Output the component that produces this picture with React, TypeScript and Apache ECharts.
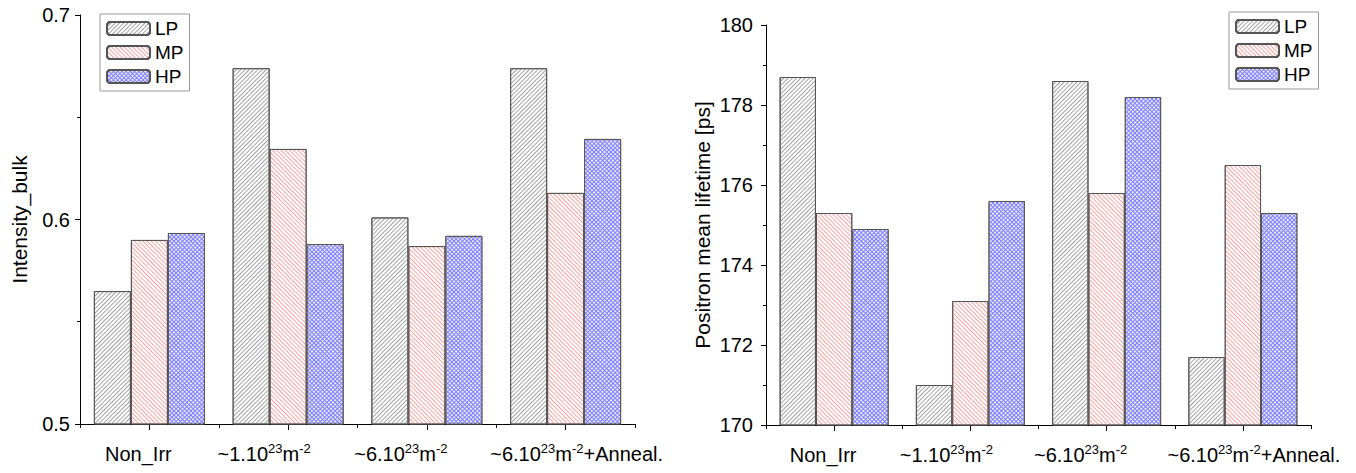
import React, { useEffect, useRef } from "react";
import * as echarts from "echarts";

const categories = ["Non_Irr", "~1.10^23m^-2", "~6.10^23m^-2", "~6.10^23m^-2+Anneal."];
const categoryLabels = [
  "{n|Non_Irr}{g22| }",
  "{n|~1.10}{s|23}{n|m}{s|-2}{g48| }",
  "{n|~6.10}{s|23}{n|m}{s|-2}{g52| }",
  "{g22| }{n|~6.10}{s|23}{n|m}{s|-2}{n|+Anneal.}",
];
const seriesNames = ["LP", "MP", "HP"];

// Left chart: Intensity_bulk
const intensityLP = [0.565, 0.674, 0.601, 0.674];
const intensityMP = [0.59, 0.6345, 0.587, 0.613];
const intensityHP = [0.5934, 0.588, 0.592, 0.6394];

// Right chart: Positron mean lifetime [ps]
const lifetimeLP = [178.7, 171.0, 178.6, 171.7];
const lifetimeMP = [175.3, 173.1, 175.8, 176.5];
const lifetimeHP = [174.9, 175.6, 178.2, 175.3];

const FONT = "'Liberation Sans', Arial, sans-serif";
const FS = 20;

const decals: any = {
  LP: {
    symbol: "rect",
    symbolSize: 1,
    dashArrayX: [1, 0],
    dashArrayY: [1, 2],
    rotation: -Math.PI / 4,
    color: "#a3a3a3",
  },
  MP: {
    symbol: "rect",
    symbolSize: 1,
    dashArrayX: [1, 0],
    dashArrayY: [1, 2],
    rotation: Math.PI / 4,
    color: "#f7a3a3",
  },
  HP: {
    symbol: "circle",
    symbolSize: 1,
    dashArrayX: [2, 1],
    dashArrayY: [2, 1],
    rotation: Math.PI / 4,
    color: "#ffffff",
  },
};
const baseColors: any = { LP: "#ffffff", MP: "#ffffff", HP: "#7a7aff" };

export default function App() {
  const ref = useRef<HTMLDivElement>(null);
  useEffect(() => {
    if (!ref.current) return;
    const chart = echarts.init(ref.current, null, { renderer: "svg" });

    const rich = {
      n: { fontSize: FS, fontFamily: FONT, color: "#000", lineHeight: 22, verticalAlign: "bottom" },
      s: { fontSize: 13, fontFamily: FONT, color: "#000", lineHeight: 13, verticalAlign: "top" },
      g22: { width: 22, fontSize: 10, lineHeight: 22 },
      g48: { width: 48, fontSize: 10, lineHeight: 22 },
      g52: { width: 52, fontSize: 10, lineHeight: 22 },
    };

    const mainX = (gridIndex: number) => ({
      type: "category",
      gridIndex,
      position: "bottom",
      data: categories,
      axisLine: { show: true, lineStyle: { color: "#000", width: 1 } },
      axisTick: { show: true, alignWithLabel: true, length: 6, lineStyle: { color: "#000" } },
      axisLabel: {
        interval: 0,
        margin: 18,
        formatter: (_v: string, i: number) => categoryLabels[i],
        rich,
      },
      splitLine: { show: false },
    });
    const boundX = (gridIndex: number) => ({
      type: "category",
      gridIndex,
      position: "bottom",
      data: categories,
      axisLine: { show: false },
      axisTick: { show: true, interval: 0, length: 4, lineStyle: { color: "#000" } },
      axisLabel: { show: false },
      splitLine: { show: false },
    });

    const yAxis = (
      gridIndex: number,
      min: number,
      max: number,
      interval: number,
      name: string,
      nameGap: number,
      labelMargin: number
    ) => ({
      type: "value",
      gridIndex,
      min,
      max,
      interval,
      name,
      nameLocation: "middle",
      nameGap,
      nameTextStyle: { fontSize: 21, fontFamily: FONT, color: "#000" },
      axisLine: { show: true, lineStyle: { color: "#000", width: 1 } },
      axisTick: { show: true, length: 5, lineStyle: { color: "#000" } },
      minorTick: { show: true, splitNumber: 2, length: 3, lineStyle: { color: "#000" } },
      axisLabel: { fontSize: FS, fontFamily: FONT, color: "#000", margin: labelMargin },
      splitLine: { show: false },
    });

    const mk = (name: string, data: number[], idx: number) => ({
      type: "bar",
      name,
      xAxisIndex: idx * 2,
      yAxisIndex: idx,
      data,
      barGap: "0%",
      barCategoryGap: "20%",
      itemStyle: {
        color: baseColors[name],
        borderColor: "#555",
        borderWidth: 1,
        decal: decals[name],
      },
    });

    const legend = (left: number, top: number) => ({
      data: seriesNames,
      orient: "vertical",
      left,
      top,
      itemWidth: 43,
      itemHeight: 13,
      itemGap: 5,
      padding: [5, 6, 5, 6],
      borderColor: "#999",
      borderWidth: 1,
      selectedMode: false,
      textStyle: { fontSize: 19, fontFamily: FONT, color: "#000", lineHeight: 19 },
    });

    chart.setOption({
      animation: false,
      backgroundColor: "#fff",
      grid: [
        { left: 80, top: 15, width: 555, height: 409 },
        { left: 766, top: 25, width: 545, height: 400 },
      ],
      legend: [legend(100, 14), legend(1229, 12)],
      xAxis: [mainX(0), boundX(0), mainX(1), boundX(1)],
      yAxis: [
        yAxis(0, 0.5, 0.7, 0.1, "Intensity_bulk", 50, 10),
        yAxis(1, 170, 180, 2, "Positron mean lifetime [ps]", 53, 13),
      ],
      series: [
        mk("LP", intensityLP, 0),
        mk("MP", intensityMP, 0),
        mk("HP", intensityHP, 0),
        mk("LP", lifetimeLP, 1),
        mk("MP", lifetimeMP, 1),
        mk("HP", lifetimeHP, 1),
      ],
    });
    return () => chart.dispose();
  }, []);
  return (
    <div
      ref={ref}
      style={{ position: "fixed", left: 0, top: 0, width: 1356, height: 473, background: "#fff" }}
    />
  );
}
